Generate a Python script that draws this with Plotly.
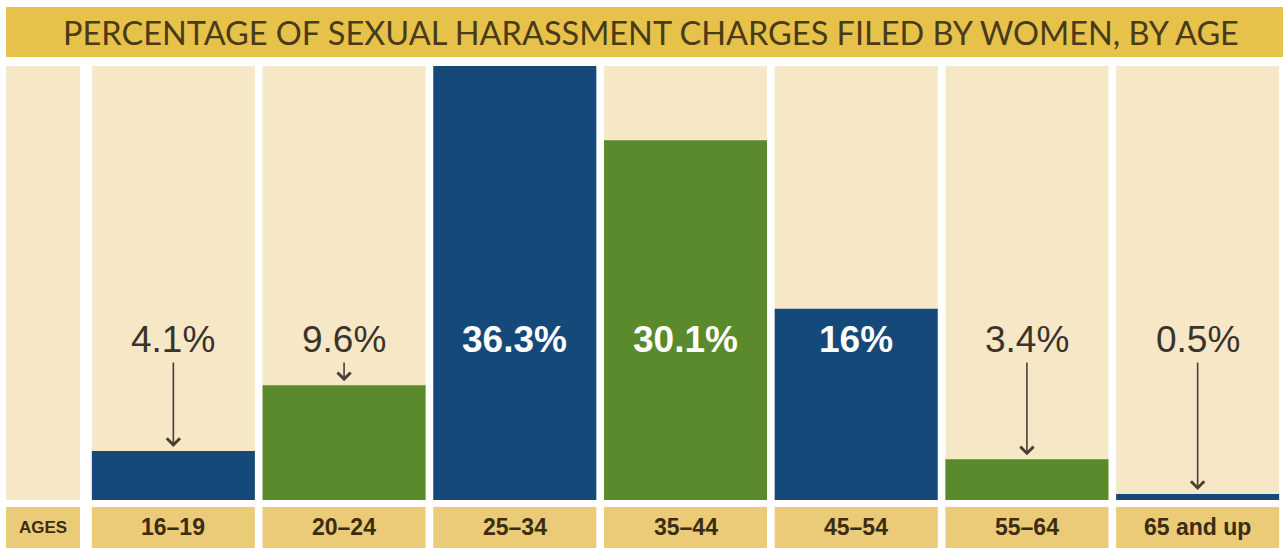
import plotly.graph_objects as go

# ---- data ----
title_text = "PERCENTAGE OF SEXUAL HARASSMENT CHARGES FILED BY WOMEN, BY AGE"
row_header = "AGES"
age_groups = ["16–19", "20–24", "25–34", "35–44", "45–54", "55–64", "65 and up"]
percentages = [4.1, 9.6, 36.3, 30.1, 16, 3.4, 0.5]
value_labels = ["4.1%", "9.6%", "36.3%", "30.1%", "16%", "3.4%", "0.5%"]

# ---- styles ----
NAVY = "#15497a"
GREEN = "#5a8a2b"
BEIGE = "#f6e8c7"
GOLD = "#e7c24b"
GOLD_CELL = "#ebca78"
DARK = "#3b332a"
bar_colors = [NAVY, GREEN, NAVY, GREEN, NAVY, GREEN, NAVY]
label_inside = [v > 12 for v in percentages]
NARROW = "Liberation Sans Narrow, Arial Narrow, Liberation Sans, Arial, sans-serif"

W, H = 1283, 548
ML, MR, MT, MB = 88, 0, 66, 48
PW = W - ML - MR
PH = H - MT - MB
Y_TOP = max(percentages)
BAR_W = 0.955

def py(px):  # pixel row -> paper y
    return (H - MB - px) / PH

def px_x(px):  # pixel col -> paper x
    return (px - ML) / PW

fig = go.Figure()
fig.add_trace(go.Bar(x=age_groups, y=[Y_TOP] * len(age_groups), marker_color=BEIGE,
                     marker_line_width=0, width=BAR_W, hoverinfo="skip", showlegend=False))
fig.add_trace(go.Bar(x=age_groups, y=percentages, marker_color=bar_colors,
                     marker_line_width=0, width=BAR_W, hoverinfo="skip", showlegend=False))

shapes = []
shapes.append(dict(type="rect", xref="paper", yref="paper", x0=px_x(6), x1=1.0,
                   y0=py(57), y1=py(7), fillcolor=GOLD, line_width=0, layer="below"))
shapes.append(dict(type="rect", xref="paper", yref="paper", x0=px_x(6), x1=px_x(80),
                   y0=0, y1=1, fillcolor=BEIGE, line_width=0, layer="below"))
shapes.append(dict(type="rect", xref="paper", yref="paper", x0=px_x(6), x1=px_x(80),
                   y0=py(548), y1=py(507), fillcolor=GOLD_CELL, line_width=0, layer="below"))
for i in range(len(age_groups)):
    shapes.append(dict(type="rect", xref="x", yref="paper", x0=i - BAR_W / 2, x1=i + BAR_W / 2,
                       y0=py(548), y1=py(507), fillcolor=GOLD_CELL, line_width=0, layer="below"))

annotations = []
annotations.append(dict(text=title_text, xref="paper", yref="paper", x=px_x(651), y=py(33),
                        xanchor="center", yanchor="middle", showarrow=False,
                        font=dict(family="Lato", size=32.5, color="#4a3b18", weight=400)))
annotations.append(dict(text=row_header, xref="paper", yref="paper", x=px_x(43), y=py(527),
                        xanchor="center", yanchor="middle", showarrow=False,
                        font=dict(family=NARROW, size=17, color="#3a2d14", weight="bold")))
tail_val = py(361) * Y_TOP
for i, (g, v, lab, inside) in enumerate(zip(age_groups, percentages, value_labels, label_inside)):
    annotations.append(dict(text=g, xref="x", yref="paper", x=g, y=py(527),
                            xanchor="center", yanchor="middle", showarrow=False,
                            font=dict(family=NARROW, size=23, color="#3a2d14", weight="bold")))
    annotations.append(dict(text=lab, xref="x", yref="paper", x=g, y=py(339),
                            xanchor="center", yanchor="middle", showarrow=False,
                            font=dict(family="Liberation Sans, Arial, sans-serif", size=37,
                                      color="white" if inside else DARK,
                                      weight="bold" if inside else "normal")))
    if not inside:
        annotations.append(dict(text="", xref="x", yref="y", x=g, y=v, axref="x", ayref="y",
                                ax=g, ay=tail_val, showarrow=True, arrowhead=4, arrowsize=1.6,
                                arrowwidth=1.6, arrowcolor="#4a3f33", standoff=4))

fig.update_layout(
    width=W, height=H, margin=dict(l=ML, r=MR, t=MT, b=MB),
    paper_bgcolor="white", plot_bgcolor="white",
    barmode="overlay", bargap=1 - BAR_W,
    shapes=shapes, annotations=annotations, showlegend=False,
    xaxis=dict(type="category", range=[-0.5, len(age_groups) - 0.5], showticklabels=False,
               showgrid=False, zeroline=False, showline=False, fixedrange=True),
    yaxis=dict(range=[0, Y_TOP], showticklabels=False, showgrid=False, zeroline=False,
               showline=False, fixedrange=True),
)
fig.write_html("out.html", config={"displayModeBar": False, "staticPlot": True},
               post_script="document.body.style.margin='0';")
